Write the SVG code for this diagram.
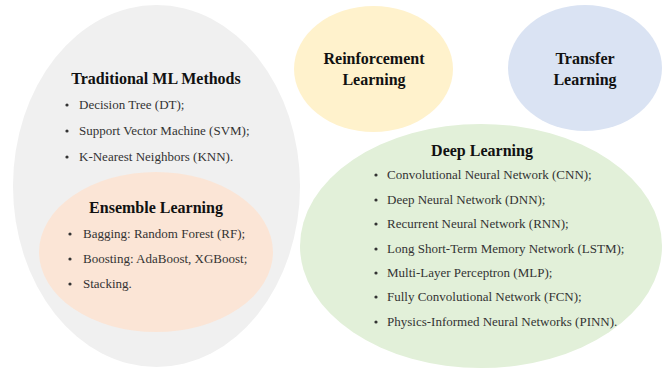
<svg xmlns="http://www.w3.org/2000/svg" width="663" height="371" viewBox="0 0 663 371">
<style>
text{font-family:'Liberation Serif','DejaVu Serif','Times New Roman',Times,serif}
.t{font-weight:bold;font-size:16px;fill:#111;text-anchor:middle}
.i{font-size:13px;fill:#333}
.b{fill:#333}
</style>
<rect width="663" height="371" fill="#fff"/>
<g id="traditional">
<ellipse cx="156.5" cy="186" rx="143.5" ry="181" fill="#f0f0f0"/>
<text class="t" x="156" y="84">Traditional ML Methods</text>
<circle class="b" cx="67" cy="105" r="1.6"/><text class="i" x="79" y="109">Decision Tree (DT);</text>
<circle class="b" cx="67" cy="131" r="1.6"/><text class="i" x="79" y="135">Support Vector Machine (SVM);</text>
<circle class="b" cx="67" cy="157" r="1.6"/><text class="i" x="79" y="161">K-Nearest Neighbors (KNN).</text>
</g>
<g id="ensemble">
<ellipse cx="156" cy="252" rx="117" ry="80" fill="#fbe5d6"/>
<text class="t" x="156" y="213">Ensemble Learning</text>
<circle class="b" cx="70" cy="234" r="1.6"/><text class="i" x="83" y="238">Bagging: Random Forest (RF);</text>
<circle class="b" cx="70" cy="259" r="1.6"/><text class="i" x="83" y="263">Boosting: AdaBoost, XGBoost;</text>
<circle class="b" cx="70" cy="284" r="1.6"/><text class="i" x="83" y="288">Stacking.</text>
</g>
<g id="reinforcement">
<ellipse cx="373.5" cy="69" rx="79.5" ry="63" fill="#fff2cc"/>
<text class="t" x="374" y="64">Reinforcement</text>
<text class="t" x="374" y="85">Learning</text>
</g>
<g id="transfer">
<ellipse cx="585" cy="68" rx="77" ry="63" fill="#dae3f3"/>
<text class="t" x="585" y="64">Transfer</text>
<text class="t" x="585" y="85">Learning</text>
</g>
<g id="deep">
<ellipse cx="481" cy="246" rx="181" ry="122" fill="#e2f0d9"/>
<text class="t" x="482" y="156">Deep Learning</text>
<circle class="b" cx="376" cy="175" r="1.6"/><text class="i" x="387" y="179">Convolutional Neural Network (CNN);</text>
<circle class="b" cx="376" cy="200" r="1.6"/><text class="i" x="387" y="204">Deep Neural Network (DNN);</text>
<circle class="b" cx="376" cy="224" r="1.6"/><text class="i" x="387" y="228">Recurrent Neural Network (RNN);</text>
<circle class="b" cx="376" cy="249" r="1.6"/><text class="i" x="387" y="253">Long Short-Term Memory Network (LSTM);</text>
<circle class="b" cx="376" cy="273" r="1.6"/><text class="i" x="387" y="277">Multi-Layer Perceptron (MLP);</text>
<circle class="b" cx="376" cy="297" r="1.6"/><text class="i" x="387" y="301">Fully Convolutional Network (FCN);</text>
<circle class="b" cx="376" cy="322" r="1.6"/><text class="i" x="387" y="326">Physics-Informed Neural Networks (PINN).</text>
</g>
<g id="connectors"></g>
</svg>
